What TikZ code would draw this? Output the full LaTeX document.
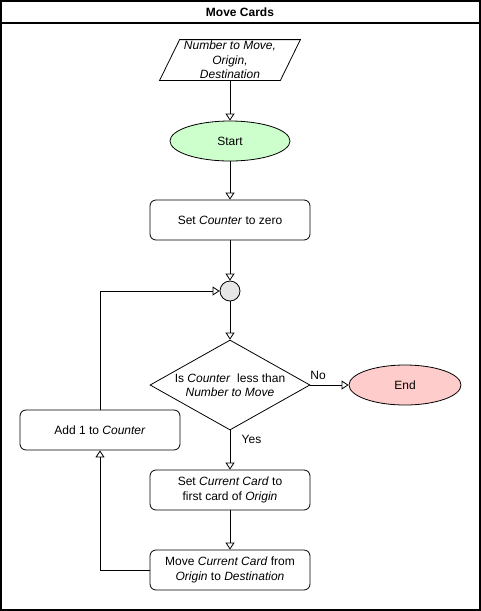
\documentclass[tikz,border=0pt]{standalone}
\usepackage{fontspec}
\setmainfont{Liberation Sans}
\usetikzlibrary{arrows.meta,shapes.geometric}
\definecolor{startgreen}{HTML}{CCFFCC}
\definecolor{endred}{HTML}{FFCCCC}
\definecolor{joingray}{HTML}{E6E6E6}
\tikzset{
    process/.style={
        rectangle,
        rounded corners=6pt,
        draw,
        minimum width=160pt,
        minimum height=40pt,
        align=center,
        inner sep=0pt
    },
    terminal/.style={
        ellipse,
        draw,
        minimum width=120pt,
        minimum height=40pt,
        inner sep=0pt
    },
    decision/.style={
        diamond,
        draw,
        minimum width=160pt,
        minimum height=90pt,
        inner sep=0pt
    },
    junction/.style={
        circle,
        draw,
        fill=joingray,
        minimum size=20pt,
        inner sep=0pt
    },
    flow/.style={
        -{Triangle[open,length=7pt,width=9pt]},
        line width=0.8pt
    }
}

\begin{document}
\begin{tikzpicture}[x=1pt,y=-1pt,line width=0.8pt,font=\fontsize{12}{14.4}\selectfont]
\useasboundingbox (0,0) rectangle (481,611);
% frame and title
\draw[line width=1.5pt] (0.75,0.75) rectangle (480,610);
\draw[line width=1.5pt] (0.75,23) -- (480,23);
\node[font=\fontsize{12}{14.4}\selectfont\bfseries] (title) at (240,12) {Move Cards};
% input data
\node[minimum width=120pt,minimum height=40pt,inner sep=0pt,align=center] (input) at (230,60)
  {\textit{Number to Move,}\\\textit{Origin,}\\\textit{Destination}};
\draw ([xshift=10pt]input.north west) -- ([xshift=10pt]input.north east)
  -- ([xshift=-10pt]input.south east) -- ([xshift=-10pt]input.south west) -- cycle;
\node[terminal,fill=startgreen] (start) at (230,141) {Start};
\node[process] (zero) at (230,220) {Set \textit{Counter} to zero};
\node[junction] (join) at (230,291) {};
\node[decision] (check) at (230,385) {};
\node[align=center] (checktext) at (check.center)
  {Is \textit{Counter}~ less than\\\textit{Number to Move}};
\node[terminal,fill=endred,minimum width=112pt] (end) at (405,385) {End};
\node[process] (add) at (100,430) {Add 1 to \textit{Counter}};
\node[process] (pick) at (230,490) {Set \textit{Current Card} to\\first card of \textit{Origin}};
\node[process] (move) at (230,570) {Move \textit{Current Card} from\\\textit{Origin} to \textit{Destination}};
\path[flow]
  (input) edge (start)
  (start) edge (zero)
  (zero) edge (join)
  (join) edge (check)
  (check.east) edge node[pos=0.2,above=2pt] {No} (end)
  (check.south) edge node[pos=0.22,right=8pt] {Yes} (pick)
  (pick) edge (move);
\draw[flow] (move.west) -| (add.south);
\draw[flow] (add.north) |- (join.west);
\end{tikzpicture}
\end{document}
